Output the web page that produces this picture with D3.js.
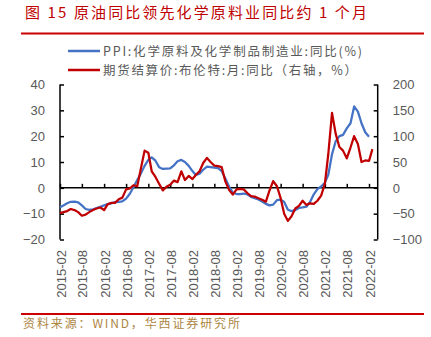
<!DOCTYPE html>
<html><head><meta charset="utf-8">
<script src="https://cdn.jsdelivr.net/npm/d3@7"></script>
<style>
html,body{margin:0;padding:0;background:#fff;}
svg{display:block;}
</style></head>
<body>
<svg id="chart" width="431" height="337"></svg>
<script>
// ---- data ----
const startMonth = "2015-02";
const ppiChem = [-7.5,-6.8,-6.0,-5.4,-5.3,-5.6,-6.8,-8.2,-8.5,-8.3,-7.8,-7.3,-6.8,-6.3,-6.0,-5.5,-5.4,-5.2,-4.2,-2.3,
  0.2,3.0,5.5,8.5,10.8,11.8,10.5,8.0,7.3,7.4,7.5,8.7,10.3,10.8,10.0,8.5,6.5,5.0,5.5,7.0,
  8.2,8.0,7.8,7.6,6.5,3.5,0.5,-1.8,-2.4,-2.4,-2.2,-2.5,-3.5,-4.0,-4.5,-5.3,-6.2,-6.8,-6.5,-4.8,
  -4.6,-5.5,-8.5,-9.0,-8.6,-7.8,-7.6,-7.3,-5.5,-2.5,-0.5,0.5,2.0,5.0,13.0,18.0,20.0,20.5,23.0,25.0,
  31.5,29.5,25.0,21.5,19.8];
const brentYoY = [-49,-47,-45,-41,-43,-47,-54,-52,-47,-43,-40,-38,-43,-32,-29,-29,-22,-19,-3,-1,
  5,3,37,72,68,32,21,8,-5,2,6,14,11,32,15,23,17,25,32,48,
  58,50,43,42,40,12,-4,-13,-3,-2,-3,-10,-16,-17,-20,-23,-27,-5,13,3,
  -20,-50,-64,-55,-40,-35,-25,-33,-30,-31,-25,-15,8,65,145,105,79,72,57,78,
  100,85,50,53,52,75];
const leftTicks = [-20,-10,0,10,20,30,40];
const rightTicks = [-100,-50,0,50,100,150,200];
const seriesNames = ["PPI:化学原料及化学制品制造业:同比(%)", "期货结算价:布伦特:月:同比（右轴，%）"];
const titleText = "图 15 原油同比领先化学原料业同比约 1 个月";
const sourceText = "资料来源：WIND，华西证券研究所";

// ---- setup ----
const svg = d3.select("#chart");
const parse = d3.timeParse("%Y-%m");
const t0 = parse(startMonth);
const monthDate = i => d3.timeMonth.offset(t0, i);

const blue = "#4472C4", red = "#C00000", grey = "#595959";
const x = d3.scaleTime().domain([t0, new Date(2022, 3, 14)]).range([60, 377.7]);
const yL = d3.scaleLinear().domain([-20, 40]).range([239.5, 84.5]);
const yR = d3.scaleLinear().domain([-100, 200]).range([239.5, 84.5]);

// title
svg.append("text").attr("x", 25).attr("y", 17.5)
  .attr("font-family", "Noto Sans CJK SC").attr("font-size", 15).attr("fill", red)
  .attr("textLength", 342).attr("lengthAdjust", "spacing").text(titleText);
svg.append("line").attr("x1", 21).attr("x2", 424).attr("y1", 33.5).attr("y2", 33.5)
  .attr("stroke", "#cc0000").attr("stroke-width", 2);

// legend
const leg = [{c: blue, y: 51, w: 259}, {c: red, y: 70, w: 254}];
leg.forEach((l, i) => {
  svg.append("line").attr("x1", 68).attr("x2", 100).attr("y1", l.y).attr("y2", l.y)
    .attr("stroke", l.c).attr("stroke-width", 2.5);
  svg.append("text").attr("x", 103).attr("y", l.y).attr("dy", "0.36em")
    .attr("font-family", "Noto Sans CJK SC").attr("font-size", 12.5).attr("fill", grey)
    .attr("textLength", l.w).attr("lengthAdjust", "spacing").text(seriesNames[i]);
});

// axes
const fontAx = "Liberation Sans, Arial, sans-serif";
const gL = svg.append("g").attr("transform", "translate(60,0)")
  .call(d3.axisLeft(yL).tickValues(leftTicks).tickSize(-4).tickPadding(15).tickFormat(d3.format("d")));
const gR = svg.append("g").attr("transform", "translate(377.7,0)")
  .call(d3.axisRight(yR).tickValues(rightTicks).tickSize(-4).tickPadding(15).tickFormat(d3.format("d")));
[gL, gR].forEach(g => {
  g.select(".domain").attr("stroke", "#000").attr("stroke-width", 1.5);
  g.selectAll(".tick line").attr("stroke", "#000").attr("stroke-width", 1.5);
  g.selectAll(".tick text").attr("font-family", fontAx).attr("font-size", 13).attr("fill", grey);
});
gL.select(".domain").attr("d", "M0,84.5V239.5");
gR.select(".domain").attr("d", "M0,84.5V239.5");

const xTicks = d3.range(0, 85, 6).map(monthDate);
const gX = svg.append("g").attr("transform", `translate(0,${yL(0)})`)
  .call(d3.axisTop(x).tickValues(xTicks).tickSize(4).tickFormat(""));
gX.select(".domain").attr("d", `M60,0H377.7`).attr("stroke", "#000").attr("stroke-width", 1.5);
gX.selectAll(".tick line").attr("stroke", "#000").attr("stroke-width", 1.5);

// x labels at bottom
svg.append("g").selectAll("text").data(xTicks).join("text")
  .attr("transform", d => `translate(${x(d) + 1},250) rotate(-90)`)
  .attr("text-anchor", "end").attr("dy", "0.35em")
  .attr("font-family", fontAx).attr("font-size", 13).attr("fill", grey)
  .text(d3.timeFormat("%Y-%m"));

// lines
const lineL = d3.line().x((d, i) => x(monthDate(i))).y(d => yL(d));
const lineR = d3.line().x((d, i) => x(monthDate(i))).y(d => yR(d));
svg.append("path").datum(ppiChem).attr("d", lineL).attr("fill", "none")
  .attr("stroke", blue).attr("stroke-width", 2.25).attr("stroke-linejoin", "round");
svg.append("path").datum(brentYoY).attr("d", lineR).attr("fill", "none")
  .attr("stroke", red).attr("stroke-width", 2.25).attr("stroke-linejoin", "round");

// footer
svg.append("line").attr("x1", 21).attr("x2", 424).attr("y1", 314).attr("y2", 314)
  .attr("stroke", "#cc0000").attr("stroke-width", 2);
svg.append("text").attr("x", 23).attr("y", 324).attr("dy", "0.36em")
  .attr("font-family", "Noto Sans CJK SC").attr("font-size", 12).attr("fill", "#ad8644")
  .attr("textLength", 217).attr("lengthAdjust", "spacing").text(sourceText);
</script>
</body></html>
